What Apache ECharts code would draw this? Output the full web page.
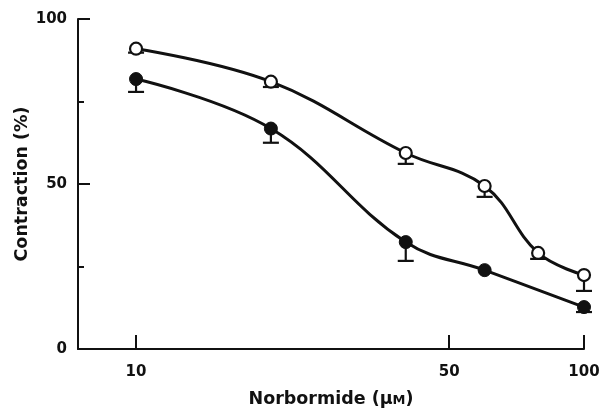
<!DOCTYPE html>
<html>
<head>
<meta charset="utf-8">
<script src="https://cdn.jsdelivr.net/npm/echarts@6/dist/echarts.min.js"></script>
<style>
  html, body { margin: 0; padding: 0; background: #fff; }
  #chart { width: 600px; height: 408px; }
</style>
</head>
<body>
<div id="chart"></div>
<script>
// concentrations (uM) and mean contraction (%) with downward SEM bars
const openConc = [10, 20, 40, 60, 79, 100]
const openMean = [91, 81, 59.4, 49.4, 29.1, 22.4]
const openErr = [1.2, 1.6, 3.3, 3.3, 1.8, 4.8]

const filledConc = [10, 20, 40, 60, 100]
const filledMean = [81.8, 66.8, 32.4, 23.9, 12.7]
const filledErr = [3.9, 4.3, 5.7, 0, 1.5]

const xTickValues = [10, 50, 100]
const yLabels = [0, 50, 100]

const ink = '#111'
const font = 'DejaVu Sans, Arial, sans-serif'

function zip (xs, ys) {
  return xs.map((x, i) => [x, ys[i]])
}
function zip3 (xs, ys, es) {
  return xs.map((x, i) => [x, ys[i], es[i]])
}

// error bar: line down from the mean with a flat cap
function renderErr (params, api) {
  const top = api.coord([api.value(0), api.value(1)])
  const bot = api.coord([api.value(0), api.value(1) - api.value(2)])
  if (api.value(2) <= 0) return null
  const half = 8
  const style = { stroke: ink, lineWidth: 2.2 }
  return {
    type: 'group',
    children: [
      { type: 'line', shape: { x1: top[0], y1: top[1], x2: bot[0], y2: bot[1] }, style: style },
      { type: 'line', shape: { x1: bot[0] - half, y1: bot[1], x2: bot[0] + half, y2: bot[1] }, style: style }
    ]
  }
}

let myChart = echarts.init(document.getElementById('chart'))
myChart.setOption({
  animation: false,
  backgroundColor: '#fff',
  grid: { left: 78, right: 16, top: 19, bottom: 59, containLabel: false, outerBoundsMode: 'none' },
  xAxis: {
    type: 'log',
    logBase: 10,
    min: 7.42,
    max: 100,
    name: 'Norbormide (μ{s|M})',
    nameLocation: 'middle',
    nameGap: 41,
    nameMoveOverlap: false,
    nameTextStyle: {
      color: ink, fontSize: 17.5, fontWeight: 'bold', fontFamily: font,
      rich: { s: { fontSize: 13, fontWeight: 'bold', fontFamily: font, color: ink, padding: [3, 0, 0, 0] } }
    },
    axisLine: { lineStyle: { color: ink, width: 2 } },
    axisTick: { inside: true, length: 14, customValues: xTickValues, lineStyle: { color: ink, width: 2 } },
    axisLabel: { customValues: xTickValues, margin: 16, color: ink, fontSize: 15, fontWeight: 'bold', fontFamily: font },
    splitLine: { show: false },
    minorTick: { show: false }
  },
  yAxis: {
    type: 'value',
    min: 0,
    max: 100,
    interval: 50,
    name: 'Contraction (%)',
    nameLocation: 'middle',
    nameRotate: 90,
    nameGap: 47,
    nameMoveOverlap: false,
    nameTextStyle: { color: ink, fontSize: 17.5, fontWeight: 'bold', fontFamily: font },
    axisLine: { show: true, lineStyle: { color: ink, width: 2 } },
    axisTick: { show: true, inside: true, length: 12, lineStyle: { color: ink, width: 2 } },
    minorTick: { show: true, splitNumber: 2, length: 6, lineStyle: { color: ink, width: 2 } },
    axisLabel: {
      margin: 11, color: ink, fontSize: 15, fontWeight: 'bold', fontFamily: font,
      formatter: v => (yLabels.indexOf(v) >= 0 ? String(v) : '')
    },
    splitLine: { show: false }
  },
  series: [
    {
      type: 'custom',
      renderItem: renderErr,
      data: zip3(openConc, openMean, openErr),
      encode: { x: 0, y: 1 },
      z: 1
    },
    {
      type: 'custom',
      renderItem: renderErr,
      data: zip3(filledConc, filledMean, filledErr),
      encode: { x: 0, y: 1 },
      z: 1
    },
    {
      name: 'open',
      type: 'line',
      smooth: 0.4,
      data: zip(openConc, openMean),
      symbol: 'circle',
      symbolSize: 12,
      lineStyle: { color: ink, width: 3 },
      itemStyle: { color: '#fff', borderColor: ink, borderWidth: 2.2 },
      z: 3
    },
    {
      name: 'filled',
      type: 'line',
      smooth: 0.4,
      data: zip(filledConc, filledMean),
      symbol: 'circle',
      symbolSize: 13,
      lineStyle: { color: ink, width: 3 },
      itemStyle: { color: ink, borderColor: ink, borderWidth: 1 },
      z: 3
    }
  ]
})
</script>
</body>
</html>
